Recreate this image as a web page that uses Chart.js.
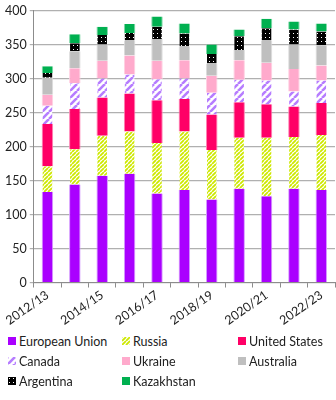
<!DOCTYPE html>
<html>
<head>
<meta charset="utf-8">
<script src="https://cdn.jsdelivr.net/npm/chart.js@4"></script>
<style>
  body { margin: 0; background: #fff; font-family: Lato, "Open Sans", sans-serif; }
  #wrap { position: relative; width: 336px; height: 328px; }
  #legend {
    display: grid;
    grid-template-columns: 114px 116px 100px;
    row-gap: 4px;
    padding-left: 8px;
    margin-top: 5px;
    font-size: 12.5px;
    color: #222;
  }
  .item { display: flex; align-items: center; height: 16px; white-space: nowrap; }
  .item canvas { width: 8px; height: 8px; margin-right: 3px; }
</style>
</head>
<body>
<div id="wrap"><canvas id="grainChart"></canvas></div>
<div id="legend"></div>
<script>
const seasons = ['2012/13', '2013/14', '2014/15', '2015/16', '2016/17', '2017/18',
                 '2018/19', '2019/20', '2020/21', '2021/22', '2022/23'];

const euValues        = [133, 144, 157, 160, 131, 136, 122, 138, 127, 138, 136];
const russiaValues    = [38, 52, 59, 62, 74, 86, 73, 75, 86, 76, 81];
const usValues        = [62, 59, 56, 56, 63, 48, 52, 52, 49, 45, 47];
const canadaValues    = [27, 38, 28, 28, 31, 30, 32, 33, 35, 22, 33];
const ukraineValues   = [16, 22, 26, 28, 27, 27, 25, 29, 26, 33, 22];
const australiaValues = [25, 25, 24, 22, 32, 20, 18, 15, 33, 36, 30];
const argentinaValues = [7, 12, 14, 11, 18, 19, 14, 20, 18, 22, 20];
const kazakhValues    = [10, 13, 12, 13, 15, 15, 14, 10, 14, 12, 12];

const yTicks = [0, 50, 100, 150, 200, 250, 300, 350, 400];

// little canvas patterns for the hatched series
const stripes = (fg, size, lineW) => {
    const c = document.createElement('canvas');
    c.width = size; c.height = size;
    const g = c.getContext('2d');
    g.fillStyle = '#fff';
    g.fillRect(0, 0, size, size);
    g.strokeStyle = fg;
    g.lineWidth = lineW;
    g.beginPath();
    for (let k = -1; k <= 1; k++) {
        g.moveTo(k * size, size);
        g.lineTo(k * size + size, 0);
    }
    g.stroke();
    return c;
}

const dots = () => {
    const c = document.createElement('canvas');
    c.width = 4; c.height = 4;
    const g = c.getContext('2d');
    g.fillStyle = '#000';
    g.fillRect(0, 0, 4, 4);
    g.fillStyle = '#fff';
    g.fillRect(1, 1, 1, 1);
    return c;
}

const ctx = document.getElementById('grainChart').getContext('2d');
const russiaFill = ctx.createPattern(stripes('#cde800', 4, 1.8), 'repeat');
const canadaFill = ctx.createPattern(stripes('#b67dff', 7, 2.6), 'repeat');
const argentinaFill = ctx.createPattern(dots(), 'repeat');

const series = [
    {label: 'European Union', data: euValues, fill: '#aa00ff', border: '#d59bff'},
    {label: 'Russia', data: russiaValues, fill: russiaFill, border: 'rgba(0,0,0,0)'},
    {label: 'United States', data: usValues, fill: '#ff0066', border: '#ff80b3'},
    {label: 'Canada', data: canadaValues, fill: canadaFill, border: 'rgba(0,0,0,0)'},
    {label: 'Ukraine', data: ukraineValues, fill: '#ffaacc', border: '#ffd0e2'},
    {label: 'Australia', data: australiaValues, fill: '#bfbfbf', border: '#dcdcdc'},
    {label: 'Argentina', data: argentinaValues, fill: argentinaFill, border: 'rgba(0,0,0,0)'},
    {label: 'Kazakhstan', data: kazakhValues, fill: '#00b050', border: '#80d8a8'},
];

const grainChart = new Chart(ctx, {
    type: 'bar',
    data: {
        labels: seasons,
        datasets: series.map(s => ({
            label: s.label,
            data: s.data,
            backgroundColor: s.fill,
            borderColor: s.border,
            borderWidth: {left: 1, right: 1, top: 0, bottom: 0},
            barPercentage: 0.42,
            categoryPercentage: 1,
        }))
    },
    options: {
        responsive: true,
        maintainAspectRatio: false,
        animation: false,
        layout: {padding: {top: 4, right: 1, left: 2, bottom: 0}},
        plugins: {
            legend: {display: false},
            tooltip: {enabled: false}
        },
        scales: {
            x: {
                stacked: true,
                grid: {
                    display: true,
                    drawOnChartArea: false,
                    drawTicks: true,
                    tickLength: 5,
                    offset: true,
                    color: '#8c8c8c'
                },
                border: {color: '#8c8c8c'},
                ticks: {
                    autoSkip: false,
                    maxRotation: 35,
                    minRotation: 35,
                    padding: 0,
                    color: '#222',
                    font: {family: 'Lato', size: 12.5},
                    callback: function(val, i) {
                        return i % 2 === 0 ? this.getLabelForValue(val) : '';
                    }
                }
            },
            y: {
                stacked: true,
                min: 0,
                max: 400,
                afterBuildTicks: axis => {
                    axis.ticks = yTicks.map(v => ({value: v}));
                },
                grid: {color: '#b0b0b0', tickLength: 4, lineWidth: 1.2},
                border: {color: '#8c8c8c'},
                ticks: {
                    padding: 3,
                    color: '#222',
                    font: {family: 'Lato', size: 12.5}
                }
            }
        }
    }
})

// legend below the chart, three columns like the original
const legendBox = document.getElementById('legend');
series.forEach(s => {
    const item = document.createElement('div');
    item.className = 'item';
    const sw = document.createElement('canvas');
    sw.width = 8; sw.height = 8;
    const g = sw.getContext('2d');
    g.fillStyle = s.fill;
    g.fillRect(0, 0, 8, 8);
    item.appendChild(sw);
    item.appendChild(document.createTextNode(s.label));
    legendBox.appendChild(item);
});
</script>
</body>
</html>
